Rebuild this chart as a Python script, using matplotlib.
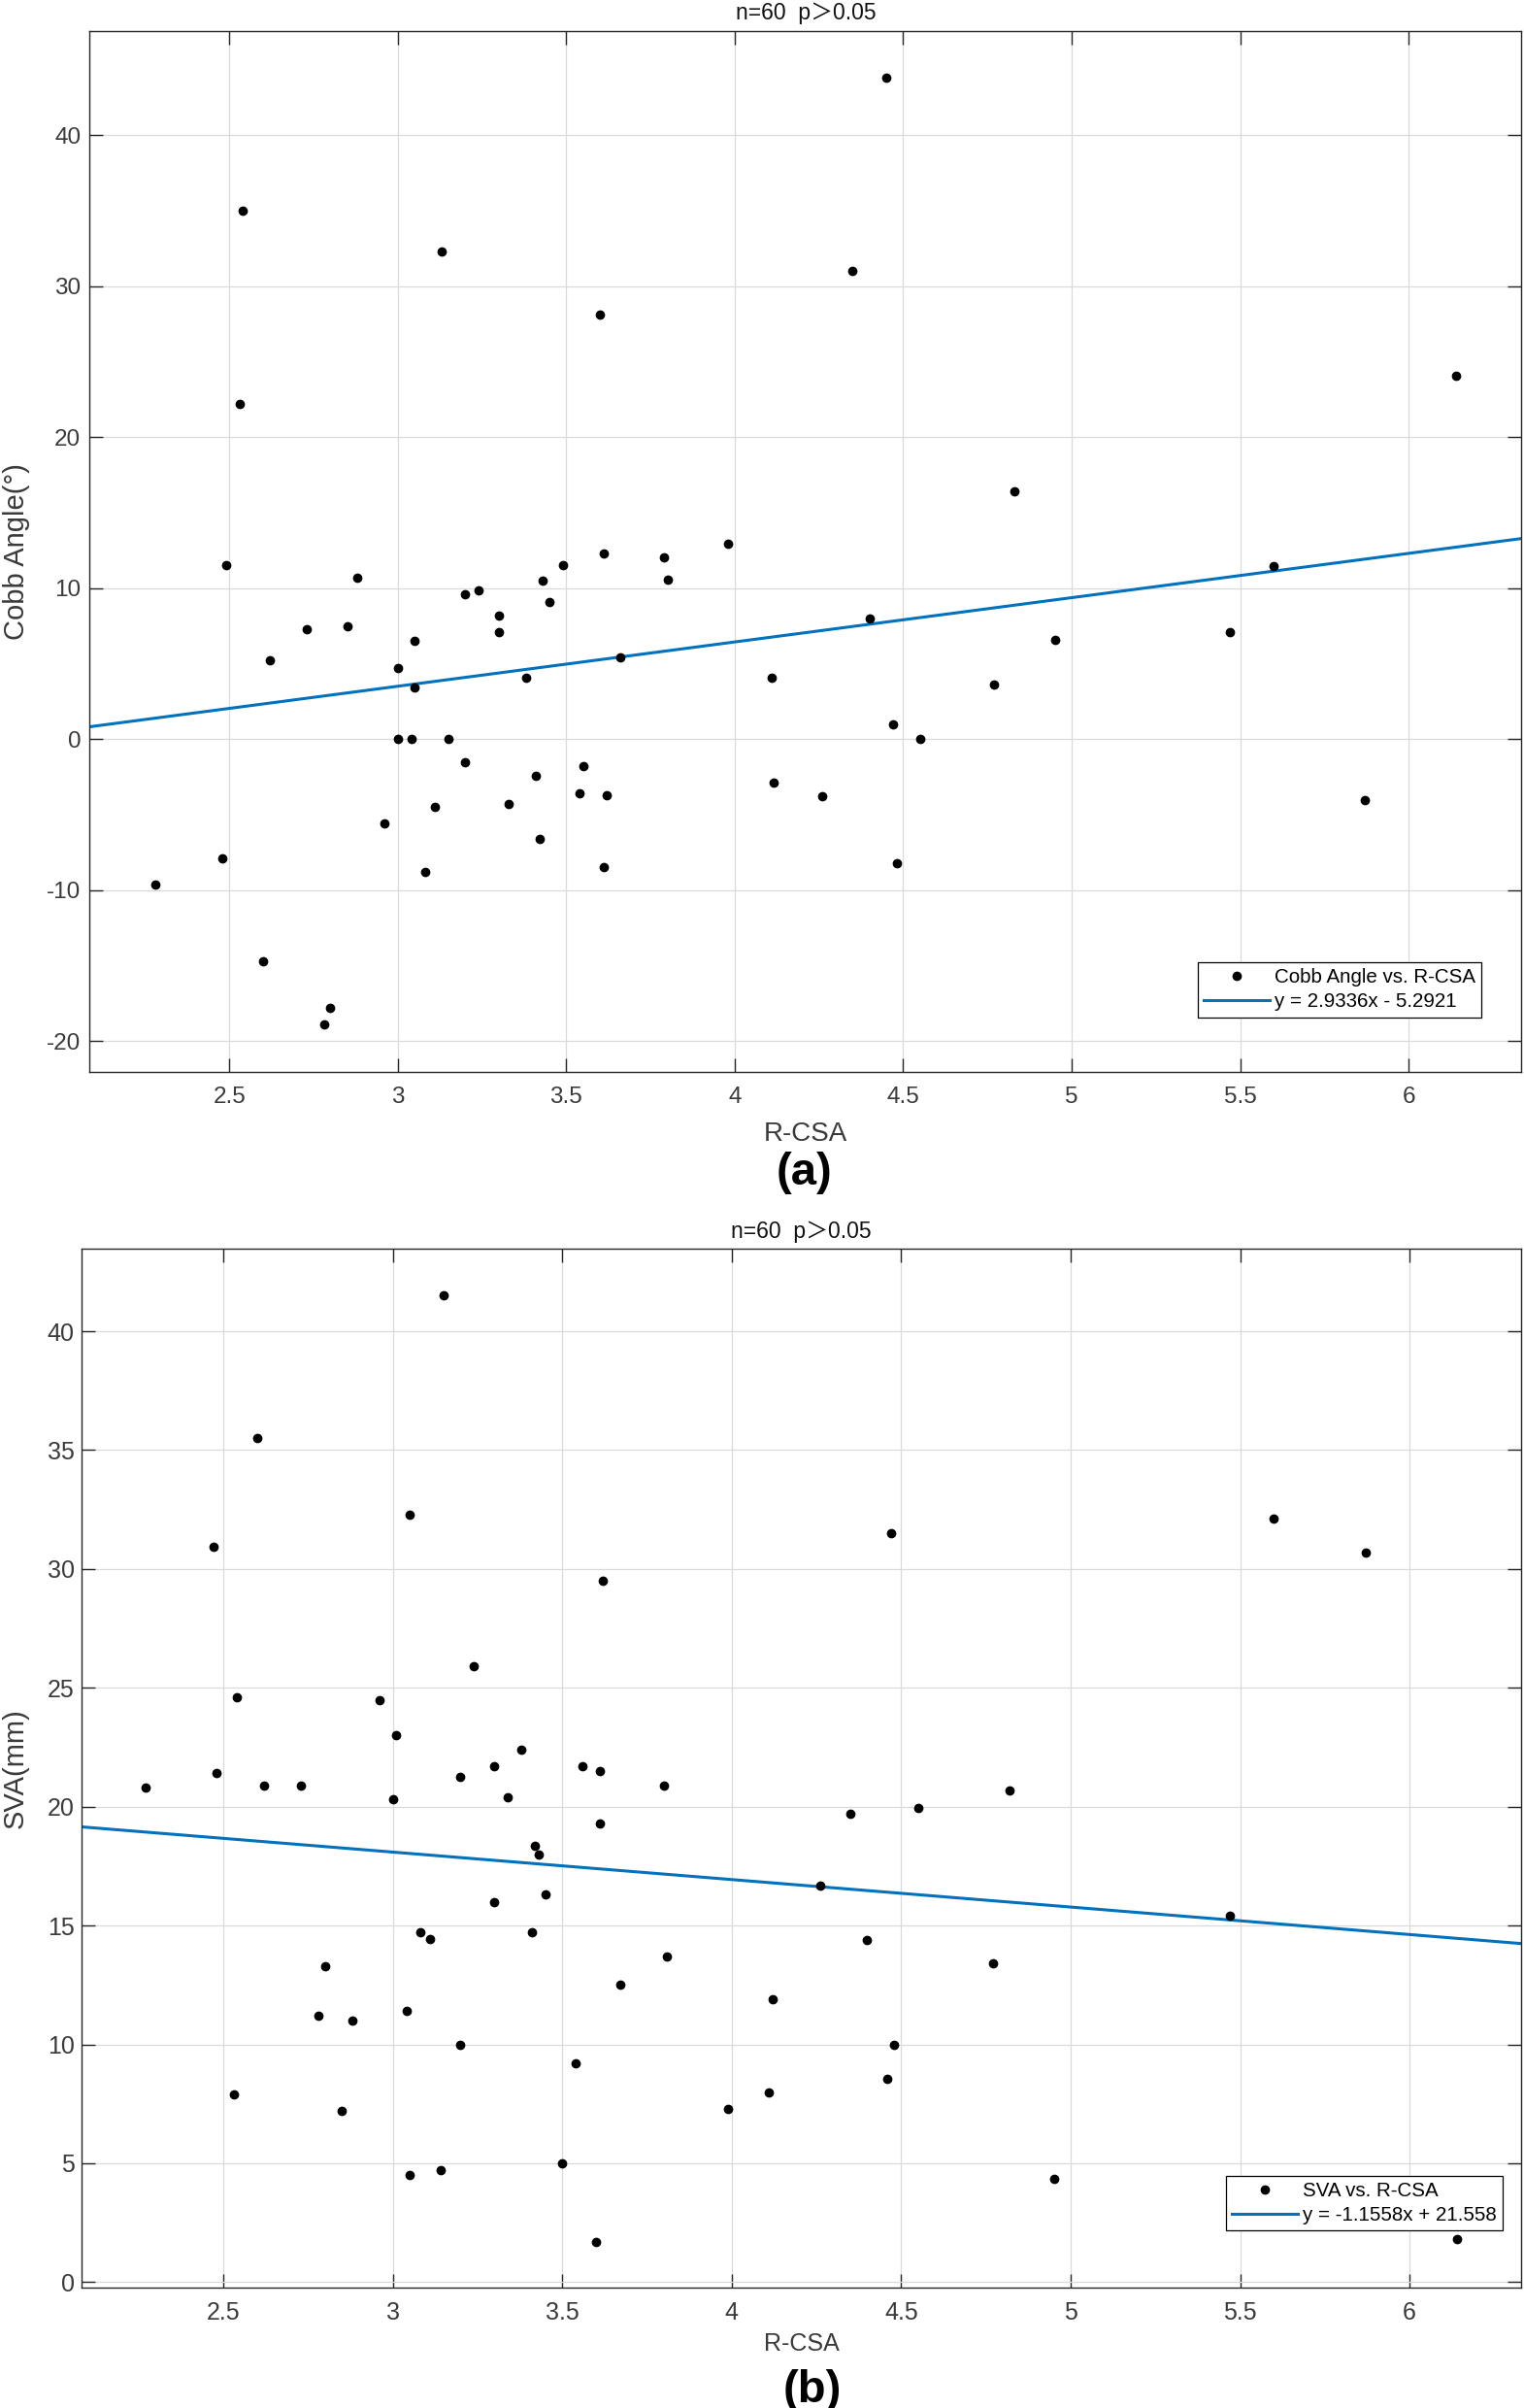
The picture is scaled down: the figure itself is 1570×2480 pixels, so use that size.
import numpy as np
import matplotlib
matplotlib.use("Agg")
import matplotlib.pyplot as plt

plt.rcParams['font.family'] = ['Liberation Sans', 'DejaVu Sans']

# ---------------- data ----------------
# Panel (a): Cobb angle vs R-CSA
rcsa_a = [2.54, 3.13, 3.60, 2.53, 2.49, 2.88, 3.20, 3.24, 3.43, 3.45,
          3.49, 3.61, 3.79, 3.80, 3.98, 4.45, 4.35, 6.14, 4.83, 5.60,
          3.30, 3.30, 2.73, 2.85, 3.05, 2.62, 3.00, 3.66, 3.38, 3.05,
          3.00, 3.04, 3.15, 3.20, 3.41, 3.55, 3.54, 3.62, 3.33, 3.11,
          2.96, 3.42, 3.61, 3.08, 2.48, 2.28, 2.60, 2.80, 2.78, 4.11,
          4.115, 4.40, 4.95, 5.47, 4.77, 4.47, 4.55, 4.26, 5.87, 4.48]
cobb = [35.0, 32.3, 28.1, 22.2, 11.55, 10.7, 9.6, 9.85, 10.5, 9.1,
        11.55, 12.3, 12.05, 10.55, 12.95, 43.8, 31.0, 24.1, 16.4, 11.5,
        8.2, 7.1, 7.3, 7.5, 6.5, 5.2, 4.7, 5.4, 4.1, 3.4,
        0.0, 0.0, 0.0, -1.5, -2.4, -1.8, -3.6, -3.7, -4.3, -4.5,
        -5.6, -6.6, -8.5, -8.8, -7.9, -9.6, -14.7, -17.8, -18.9, 4.1,
        -2.9, 8.0, 6.6, 7.1, 3.6, 1.0, 0.0, -3.8, -4.0, -8.2]

# Panel (b): SVA vs R-CSA
rcsa_b = [3.15, 2.60, 3.05, 2.47, 3.62, 3.24, 2.54, 2.96, 3.01, 3.38,
          3.30, 3.56, 3.61, 2.48, 3.20, 2.27, 2.62, 2.73, 3.80, 3.00,
          3.34, 4.47, 5.60, 5.87, 4.82, 3.61, 3.42, 3.43, 3.45, 3.30,
          3.08, 3.11, 3.41, 2.80, 3.81, 3.67, 2.78, 2.88, 3.04, 4.12,
          3.20, 3.54, 2.53, 4.11, 3.99, 2.85, 3.50, 3.05, 3.14, 3.60,
          4.35, 4.55, 4.26, 5.47, 4.40, 4.77, 4.48, 4.46, 4.95, 6.14]
sva = [41.5, 35.5, 32.3, 30.95, 29.5, 25.9, 24.6, 24.5, 23.0, 22.4,
       21.7, 21.7, 21.5, 21.4, 21.25, 20.8, 20.9, 20.9, 20.9, 20.3,
       20.4, 31.5, 32.1, 30.7, 20.7, 19.3, 18.35, 18.0, 16.3, 16.0,
       14.7, 14.45, 14.7, 13.3, 13.7, 12.5, 11.2, 11.0, 11.4, 11.9,
       10.0, 9.2, 7.9, 8.0, 7.3, 7.2, 5.0, 4.5, 4.7, 1.7,
       19.7, 19.95, 16.7, 15.4, 14.4, 13.4, 10.0, 8.55, 4.35, 1.8]

# linear fits (slope, intercept)
fit_a = (2.9336, -5.2921)
fit_b = (-1.1558, 21.558)

x_ticks = [2.5, 3, 3.5, 4, 4.5, 5, 5.5, 6]
x_ticklabels = ['2.5', '3', '3.5', '4', '4.5', '5', '5.5', '6']
y_ticks_a = [-20, -10, 0, 10, 20, 30, 40]
y_ticks_b = [0, 5, 10, 15, 20, 25, 30, 35, 40]

title_text = 'n=60  p\uff1e0.05'
legend_a = ['Cobb Angle vs. R-CSA', 'y = 2.9336x - 5.2921']
legend_b = ['SVA vs. R-CSA', 'y = -1.1558x + 21.558']

# ---------------- styling ----------------
BLUE = '#0072BD'
TICKC = '#3a3a3a'
AXC = '#262626'

fig = plt.figure(figsize=(15.7, 24.8), dpi=100)
ax_a = fig.add_axes([0.0588, 0.5549, 0.9395, 0.4321])
ax_b = fig.add_axes([0.0536, 0.0502, 0.9447, 0.4311])


def style(ax, xlim, ylim, yticks, tick_fs, xpad, ypad):
    ax.set_xlim(*xlim)
    ax.set_ylim(*ylim)
    ax.set_xticks(x_ticks)
    ax.set_xticklabels(x_ticklabels)
    ax.set_yticks(yticks)
    ax.set_yticklabels([str(v) for v in yticks])
    ax.grid(True, color='#dadada', linewidth=0.9)
    ax.set_axisbelow(True)
    ax.tick_params(axis='both', which='major', direction='in', length=10,
                   width=1.0, color=AXC, labelcolor=TICKC, labelsize=tick_fs,
                   top=True, right=True)
    ax.tick_params(axis='x', pad=xpad)
    ax.tick_params(axis='y', pad=ypad)
    for sp in ax.spines.values():
        sp.set_color(AXC)
        sp.set_linewidth(1.0)


def draw(ax, xs, ys, fit, xlim):
    pts, = ax.plot(xs, ys, linestyle='none', marker='o', markersize=6,
                   color='black', zorder=3)
    xl = np.array(xlim)
    ln, = ax.plot(xl, fit[0] * xl + fit[1], color=BLUE, linewidth=2.2,
                  zorder=2)
    return pts, ln


xlim_a = (2.085, 6.335)
xlim_b = (2.082, 6.330)

pa, la = draw(ax_a, rcsa_a, cobb, fit_a, xlim_a)
pb, lb = draw(ax_b, rcsa_b, sva, fit_b, xlim_b)

style(ax_a, xlim_a, (-22.03, 46.89), y_ticks_a, 17.5, 11, 6.5)
style(ax_b, xlim_b, (-0.21, 43.46), y_ticks_b, 18, 10.5, 5.5)

title_family = ['Liberation Sans', 'Noto Sans CJK SC', 'DejaVu Sans']
ax_a.set_title(title_text, fontsize=16.5, pad=9, family=title_family,
               color='#111111')
ax_b.set_title(title_text, fontsize=16.5, pad=8.5, family=title_family,
               color='#111111')

# axis labels
ax_a.set_xlabel('R-CSA', fontsize=20, color=TICKC, va='center')
ax_a.xaxis.set_label_coords(0.5, -0.0598)
ax_a.set_ylabel('Cobb Angle(\u00b0)', fontsize=21, color=TICKC, va='center')
ax_a.yaxis.set_label_coords(-0.051, 0.5)

ax_b.set_xlabel('R-CSA', fontsize=18, color=TICKC, va='center')
ax_b.xaxis.set_label_coords(0.5, -0.0548)
ax_b.set_ylabel('SVA(mm)', fontsize=21, color=TICKC, va='center')
ax_b.yaxis.set_label_coords(-0.046, 0.5)

leg_kw = dict(loc='lower right', borderaxespad=0, fontsize=14.8,
              fancybox=False, framealpha=1, edgecolor='black',
              borderpad=0.3, labelspacing=0.3, handlelength=3.3,
              handletextpad=0.25, numpoints=1)
lga = ax_a.legend([pa, la], legend_a, bbox_to_anchor=(0.9722, 0.0525),
                  **leg_kw)
lgb = ax_b.legend([pb, lb], legend_b, bbox_to_anchor=(0.9872, 0.0543),
                  **leg_kw)
for lg in (lga, lgb):
    lg.get_frame().set_linewidth(0.9)

fig.text(0.528, 0.5129, '(a)', fontsize=34, fontweight='bold',
         ha='center', va='center')
fig.text(0.533, 0.0073, '(b)', fontsize=34, fontweight='bold',
         ha='center', va='center')

fig.savefig('out.png', dpi=100)
